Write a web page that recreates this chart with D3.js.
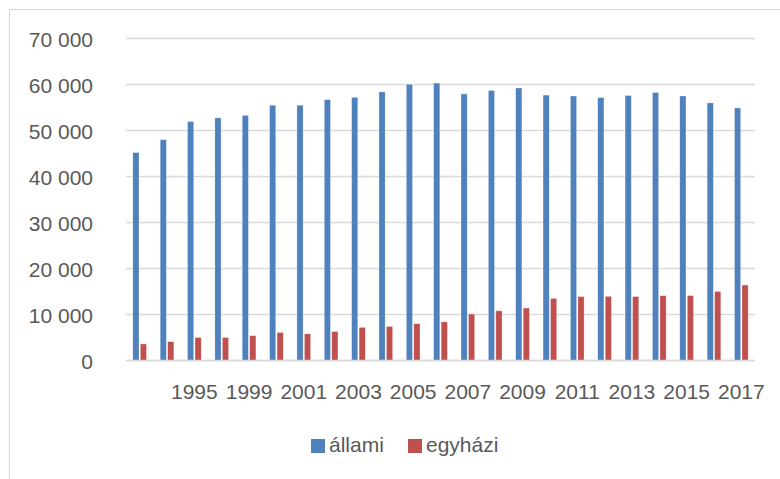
<!DOCTYPE html>
<html>
<head>
<meta charset="utf-8">
<script src="https://cdn.jsdelivr.net/npm/d3@7/dist/d3.min.js"></script>
<style>
  html, body { margin: 0; padding: 0; background: #fff; }
  svg { display: block; }
</style>
</head>
<body>
<svg id="chart" width="780" height="479"></svg>
<script>
// Categories (index 0, 1, 3 have no visible label in the original)
const categories = ["c0", "c1", "1995", "c3", "1999", "2000", "2001", "2002", "2003", "2004", "2005", "2006",
  "2007", "2008", "2009", "2010", "2011", "2012", "2013", "2014", "2015", "2016", "2017"];
const tickLabels = ["1995", "1999", "2001", "2003", "2005", "2007", "2009", "2011", "2013", "2015", "2017"];
const allami = [45200, 48000, 51950, 52750, 53300, 55500, 55500, 56700, 57200, 58400, 60050, 60300,
  57950, 58700, 59250, 57700, 57500, 57150, 57600, 58250, 57500, 56000, 54900];
const egyhazi = [3600, 4100, 5000, 5000, 5400, 6100, 5800, 6300, 7200, 7400, 8000, 8400,
  10100, 10800, 11400, 13500, 13900, 13950, 13900, 14100, 14100, 15000, 16400];
const yTicks = [0, 10000, 20000, 30000, 40000, 50000, 60000, 70000];
const seriesNames = ["állami", "egyházi"];
const colors = ["#4F81BD", "#C0504D"];

(function () {
const svg = d3.select("#chart");
const pLeft = 126, pRight = 755, pTop = 38.5, pBottom = 360.5;
const font = "'Liberation Sans', Arial, sans-serif";

// frame
svg.append("line").attr("x1", 9.5).attr("x2", 780).attr("y1", 9.5).attr("y2", 9.5)
  .attr("stroke", "#d9d9d9").attr("stroke-width", 1);
svg.append("line").attr("x1", 9.5).attr("x2", 9.5).attr("y1", 9.5).attr("y2", 479)
  .attr("stroke", "#d9d9d9").attr("stroke-width", 1);

const x = d3.scaleBand().domain(d3.range(categories.length)).range([pLeft, pRight]).paddingInner(0).paddingOuter(0);
const y = d3.scaleLinear().domain([0, 70000]).range([pBottom, pTop]);

// gridlines
svg.append("g").selectAll("line").data(yTicks).join("line")
  .attr("x1", pLeft).attr("x2", pRight)
  .attr("y1", d => y(d)).attr("y2", d => y(d))
  .attr("stroke", "#d9d9d9").attr("stroke-width", 1.3);

// y axis labels
const fmt = d => d === 0 ? "0" : d3.format(",")(d).replace(/,/g, " ");
const yAxis = d3.axisLeft(y).tickValues(yTicks).tickFormat(fmt).tickSize(0).tickPadding(0);
const gy = svg.append("g").attr("transform", "translate(93,0)").call(yAxis);
gy.select(".domain").remove();
gy.selectAll("text").attr("font-family", font).attr("font-size", "21px").attr("fill", "#595959")
  .attr("dy", "0.36em");

// bars
const barW = 6.2, gap = 1.3;
const groups = [allami, egyhazi];
groups.forEach((vals, si) => {
  svg.append("g").selectAll("rect").data(vals).join("rect")
    .attr("x", (d, i) => {
      const c = x(i) + x.bandwidth() / 2;
      return si === 0 ? c - gap / 2 - barW : c + gap / 2;
    })
    .attr("y", d => y(d))
    .attr("width", barW)
    .attr("height", d => pBottom - y(d))
    .attr("fill", colors[si])
    .attr("stroke", "#ffffff").attr("stroke-opacity", 0.5).attr("stroke-width", 0.6);
});

// baseline
svg.append("line").attr("x1", pLeft).attr("x2", pRight).attr("y1", pBottom).attr("y2", pBottom)
  .attr("stroke", "#d9d9d9").attr("stroke-width", 1.3);

// x axis labels
const xAxis = d3.axisBottom(x).tickValues(categories.map((c, i) => i).filter(i => tickLabels.includes(categories[i])))
  .tickFormat(i => categories[i]).tickSize(0).tickPadding(0);
const gx = svg.append("g").attr("transform", `translate(0,${pBottom})`).call(xAxis);
gx.select(".domain").remove();
gx.selectAll("text").attr("font-family", font).attr("font-size", "21px").attr("fill", "#595959")
  .attr("dy", null).attr("y", 38.5);

// legend
const legend = [{ x: 311, name: seriesNames[0], c: colors[0] }, { x: 408, name: seriesNames[1], c: colors[1] }];
const lg = svg.append("g").selectAll("g").data(legend).join("g").attr("transform", d => `translate(${d.x},0)`);
lg.append("rect").attr("x", 0).attr("y", 439).attr("width", 14).attr("height", 14).attr("fill", d => d.c);
lg.append("text").attr("x", 18).attr("y", 452).attr("font-family", font).attr("font-size", "21px")
  .attr("fill", "#595959").text(d => d.name);
})();
</script>
</body>
</html>
